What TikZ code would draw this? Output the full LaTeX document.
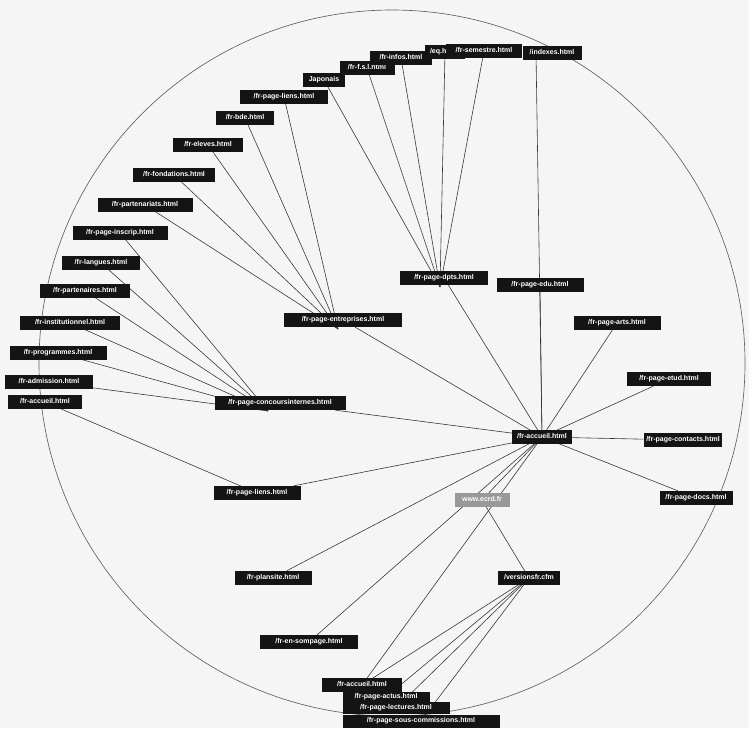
\documentclass[tikz,border=0pt]{standalone}
\usepackage{fontspec}
\setmainfont{Liberation Sans}
\pgfdeclarelayer{background}
\pgfdeclarelayer{back}
\pgfsetlayers{back,background,main}
\tikzset{
  lbl/.style={fill=black!92, text=white, font=\fontsize{7}{8}\selectfont\bfseries,
    inner xsep=2.5pt, inner ysep=0pt, minimum height=14pt, text height=5.2pt, text depth=1.4pt},
  grey/.style={lbl, fill=black!40},
  link/.style={draw=black!78, line width=0.6pt},
  rim/.style={draw=black!62, line width=0.65pt}
}
\begin{document}
\begin{tikzpicture}[x=1pt,y=-1pt]
\useasboundingbox (0,0) rectangle (749,728);
% hub and right side
\node[lbl, minimum width=60pt] (hub) at (542,437) {/fr-accueil.html};
\node[lbl, minimum width=77pt] (contacts) at (683,440) {/fr-page-contacts.html};
\node[lbl, minimum width=73pt] (docs) at (696,498) {/fr-page-docs.html};
\node[lbl, minimum width=84pt] (etud) at (669,379) {/fr-page-etud.html};
\node[lbl, minimum width=87pt] (arts) at (617,323) {/fr-page-arts.html};
\node[lbl, minimum width=87pt] (edu) at (540,285) {/fr-page-edu.html};
\node[lbl, minimum width=88pt] (dpts) at (444,278) {/fr-page-dpts.html};
\node[lbl, minimum width=118pt] (entreprises) at (343,320) {/fr-page-entreprises.html};
\node[lbl, minimum width=131pt] (concours) at (280,403) {/fr-page-concoursinternes.html};
\node[lbl, minimum width=87pt] (liens) at (257,493) {/fr-page-liens.html};
\node[grey, minimum width=55pt] (www) at (482,500) {www.ecrd.fr};
\node[lbl, minimum width=62pt] (versions) at (529,578) {/versionsfr.cfm};
\node[lbl, minimum width=77pt] (plansite) at (273,578) {/fr-plansite.html};
\node[lbl, minimum width=98pt] (sompage) at (309,642) {/fr-en-sompage.html};
% bottom cluster
\node[lbl, minimum width=80pt] (b1) at (362,685) {/fr-accueil.html};
\node[lbl, minimum width=87pt, minimum height=11pt] (b2) at (386,697) {/fr-page-actus.html};
\node[lbl, minimum width=107pt, minimum height=12pt] (b3) at (396,708) {/fr-page-lectures.html};
\node[lbl, minimum width=157pt, minimum height=13pt] (b4) at (421,721) {/fr-page-sous-commissions.html};
% left side
\node[lbl, minimum width=74pt] (accL) at (45,402) {/fr-accueil.html};
\node[lbl, minimum width=88pt] (admission) at (49,382) {/fr-admission.html};
\node[lbl, minimum width=97pt] (programmes) at (58,353) {/fr-programmes.html};
\node[lbl, minimum width=100pt] (institutionnel) at (70,323) {/fr-institutionnel.html};
\node[lbl, minimum width=90pt] (partenaires) at (85,291) {/fr-partenaires.html};
\node[lbl, minimum width=78pt] (langues) at (101,263) {/fr-langues.html};
\node[lbl, minimum width=95pt] (inscrip) at (120,233) {/fr-page-inscrip.html};
\node[lbl, minimum width=95pt] (partenariats) at (145,205) {/fr-partenariats.html};
\node[lbl, minimum width=82pt] (fondations) at (174,175) {/fr-fondations.html};
\node[lbl, minimum width=70pt] (eleves) at (208,145) {/fr-eleves.html};
\node[lbl, minimum width=58pt] (bde) at (245,118) {/fr-bde.html};
\node[lbl, minimum width=88pt] (pliens) at (284,97) {/fr-page-liens.html};
\node[lbl, minimum width=42pt] (japonais) at (324,80) {Japonais};
\node[lbl, minimum width=55pt] (fsl) at (367,68) {/fr-f.s.l.html};
\node[lbl, minimum width=62pt] (infos) at (401,58) {/fr-infos.html};
\node[lbl, minimum width=40pt, text width=30pt, align=left] (small) at (445,52) {/eq.html};
\node[lbl, minimum width=76pt] (annuaire) at (484,51) {/fr-semestre.html};
\node[lbl, minimum width=59pt] (autres) at (552,53) {/indexes.html};
\coordinate (autresA) at ([xshift=-16pt]autres.center);
\coordinate (concA) at ([xshift=-12pt,yshift=-8pt]concours.center);
\coordinate (entA) at ([xshift=-5pt,yshift=-9pt]entreprises.center);
\coordinate (dptA) at ([xshift=-4pt,yshift=-9pt]dpts.center);
% connectors
\begin{pgfonlayer}{background}
\foreach \n in {contacts,docs,etud,arts,edu,dpts,entreprises,concours,liens,plansite,sompage,www,autresA,b1}
  \draw[link] (hub.center) -- (\n);
\foreach \n in {japonais,fsl,infos,small,annuaire}
  \draw[link] (dptA) -- (\n.center);
\foreach \n in {partenariats,fondations,eleves,bde,pliens}
  \draw[link] (entA) -- (\n.center);
\foreach \n in {admission,programmes,institutionnel,partenaires,langues,inscrip}
  \draw[link] (concA) -- (\n.center);
\draw[link] (liens.center) -- (accL.center);
\draw[link] (www.center) -- (versions.center);
\foreach \n in {b1,b2,b3,b4}
  \draw[link] (versions.center) -- (\n.center);
\end{pgfonlayer}
\begin{pgfonlayer}{back}
\fill[black!4] (0,0) rectangle (749,728);
\coordinate (ctr) at (392,363);
\draw[rim] (ctr) circle[radius=353pt];
\end{pgfonlayer}
\end{tikzpicture}
\end{document}
